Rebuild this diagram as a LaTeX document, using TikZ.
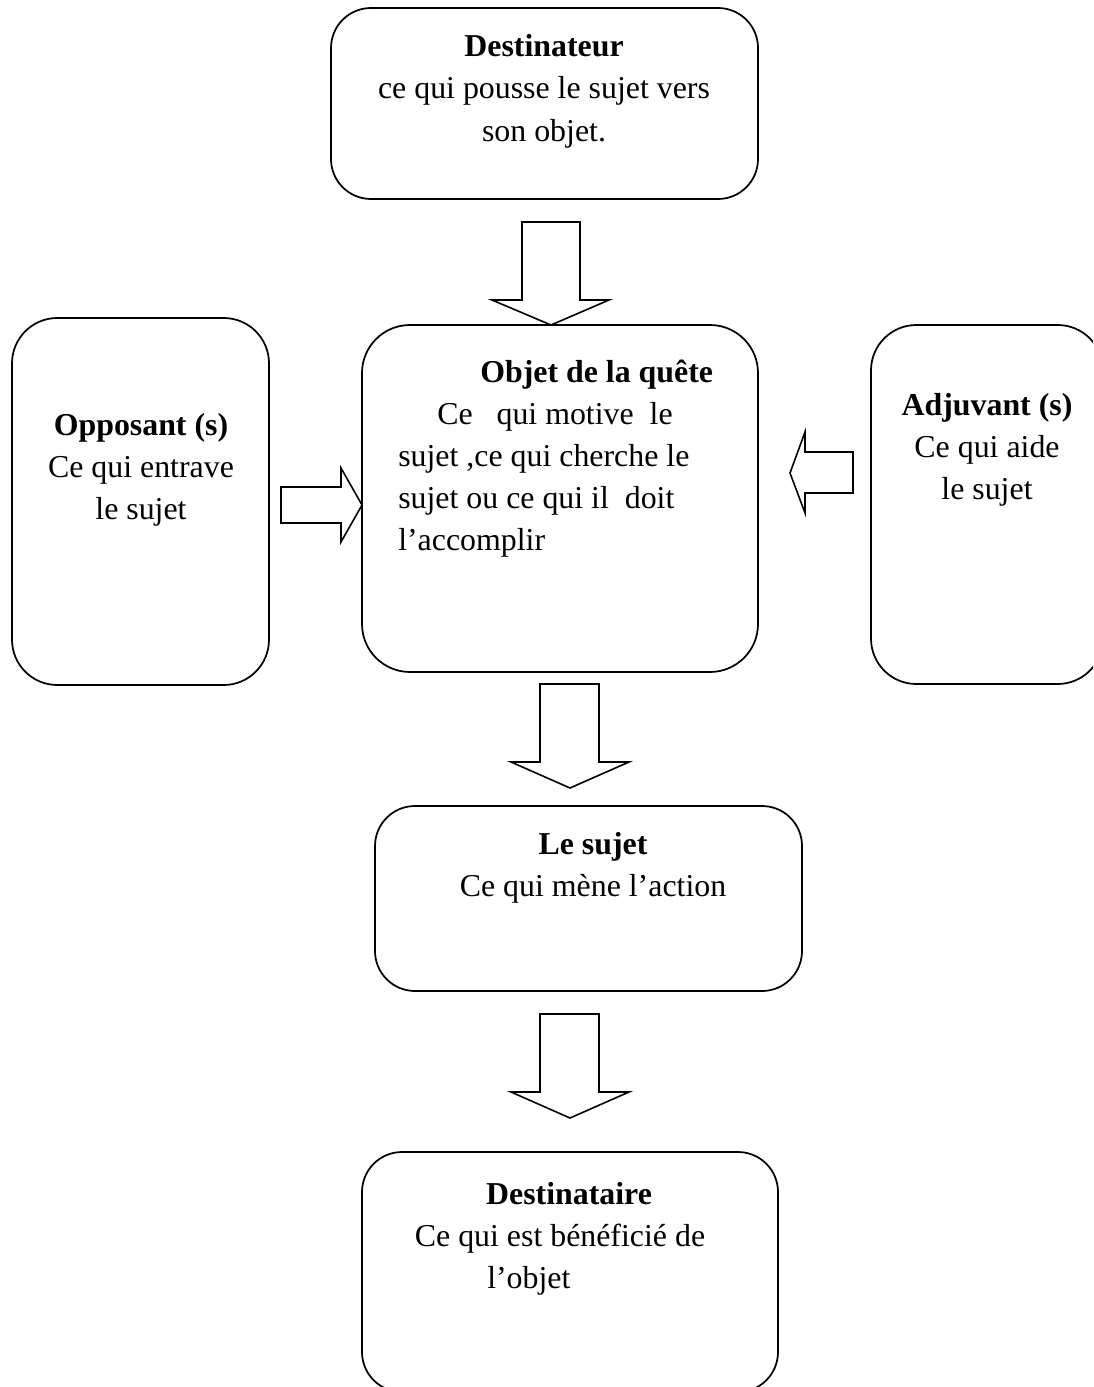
\documentclass[tikz,border=0pt]{standalone}
\usepackage{fontspec}
\setmainfont{Liberation Serif}
\usetikzlibrary{fit}
\begin{document}
\begin{tikzpicture}[x=0.75pt,y=-0.75pt,
  box/.style={draw=black,line width=1.3pt,rounded corners=30pt,inner sep=0pt},
  txt/.style={anchor=base,inner sep=0pt,font=\fontsize{23.9}{31.9}\selectfont},
  txtl/.style={anchor=base west,inner sep=0pt,font=\fontsize{23.9}{31.9}\selectfont},
  barrow/.style={draw=black,line width=1.2pt,fill=white,line join=miter}]
\useasboundingbox (0,0) rectangle (1093,1387);
\begin{scope}
\clip (0,0) rectangle (1093,1387);
% boxes
\node[box,fit={(331,8) (758,199)}] (dst) {};
\node[box,rounded corners=36pt,fit={(362,325) (758,672)}] (obj) {};
\node[box,rounded corners=34pt,fit={(12,318) (269,685)}] (opp) {};
\node[box,rounded corners=34pt,fit={(871,325) (1103,684)}] (adj) {};
\node[box,fit={(375,806) (802,991)}] (suj) {};
\node[box,fit={(362,1152) (778,1392)}] (dsr) {};
% block arrows
\draw[barrow] (522,222) -- (580,222) -- (580,300) -- (609,300) -- (551,325) -- (492,300) -- (522,300) -- cycle;
\draw[barrow] (540,684) -- (599,684) -- (599,762) -- (629,762) -- (570,788) -- (511,762) -- (540,762) -- cycle;
\draw[barrow] (540,1014) -- (599,1014) -- (599,1092) -- (629,1092) -- (570,1118) -- (511,1092) -- (540,1092) -- cycle;
\draw[barrow] (281,487) -- (341,487) -- (341,468) -- (362,505) -- (341,542) -- (341,523) -- (281,523) -- cycle;
\draw[barrow] (853,452) -- (805,452) -- (805,432) -- (790,473) -- (805,513) -- (805,493) -- (853,493) -- cycle;
\end{scope}
% texts
\node[txt] (t1a) at (544,57) {\textbf{Destinateur}};
\node[txt] (t1b) at (544,99) {ce qui pousse le sujet vers};
\node[txt] (t1c) at (544,142) {son objet.};
\node[txtl] (t2a) at (480,382) {\textbf{Objet de la quête}};
\node[txtl] (t2b) at (437,424) {Ce\ \ \ qui motive\ \ le};
\node[txtl] (t2c) at (398,466) {sujet ,ce qui cherche le};
\node[txtl] (t2d) at (398,508) {sujet ou ce qui il\ \ doit};
\node[txtl] (t2e) at (398,550) {l’accomplir};
\node[txt] (t3a) at (141,435) {\textbf{Opposant (s)}};
\node[txt] (t3b) at (141,477) {Ce qui entrave};
\node[txt] (t3c) at (141,519) {le sujet};
\node[txt] (t4a) at (987,415) {\textbf{Adjuvant (s)}};
\node[txt] (t4b) at (987,457) {Ce qui aide};
\node[txt] (t4c) at (987,499) {le sujet};
\node[txt] (t5a) at (593,854) {\textbf{Le sujet}};
\node[txt] (t5b) at (593,896) {Ce qui mène l’action};
\node[txt] (t6a) at (569,1204) {\textbf{Destinataire}};
\node[txt] (t6b) at (560,1246) {Ce qui est bénéficié de};
\node[txtl] (t6c) at (487,1288) {l’objet};
\end{tikzpicture}
\end{document}
